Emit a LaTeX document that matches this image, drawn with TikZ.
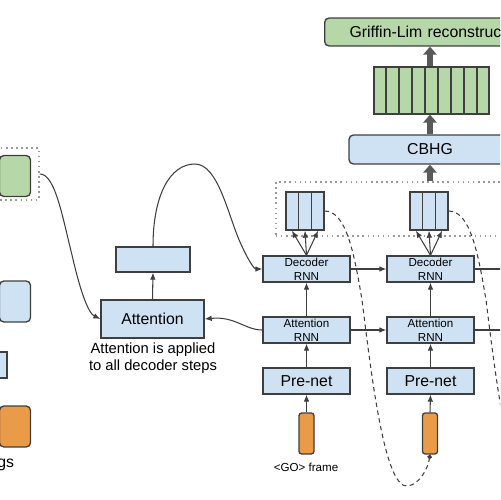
\documentclass[tikz,border=0pt]{standalone}
\usepackage{fontspec}
\setmainfont{Liberation Sans}
\usepackage{xcolor}
\usetikzlibrary{arrows.meta,calc,positioning}
\definecolor{boxblue}{HTML}{CFE2F3}
\definecolor{boxgreen}{HTML}{B6D7A8}
\definecolor{boxorange}{HTML}{E99B47}
\definecolor{edgegray}{HTML}{3F3F3F}

\begin{document}
\begin{tikzpicture}[x=0.02cm,y=-0.02cm,>={Latex[length=4pt,width=3.2pt]},
    blk/.style={draw=edgegray,line width=0.75pt,fill=boxblue,inner sep=0pt},
    rblk/.style={blk,rounded corners=2.5pt},
    gblk/.style={rblk,fill=boxgreen},
    oblk/.style={rblk,fill=boxorange},
    dotbox/.style={draw=black!40,line width=0.9pt,dotted},
    bigarrow/.style={draw=black!65,line width=3.4pt,-{Triangle[width=7.5pt,length=4.5pt]}},
    link/.style={draw=edgegray,line width=0.6pt,->},
    feedback/.style={draw=edgegray,line width=0.6pt,dash pattern=on 2.5pt off 2pt,-{Circle[length=2.6pt]}},
    bigtxt/.style={font=\fontsize{9}{10.8}\selectfont},
    smalltxt/.style={font=\fontsize{6.6}{7.9}\selectfont,align=center}]
  \useasboundingbox (0,0) rectangle (500,500);
  \clip (0,0) rectangle (500,500);

  % left column
  \node[dotbox,minimum width=0.98cm,minimum height=1.04cm] (encout) at (14.5,174) {};
  \node[gblk,minimum width=0.62cm,minimum height=0.82cm] (emb) at (15,176) {};
  \node[rblk,minimum width=0.62cm,minimum height=0.82cm] (legblue) at (15,301.5) {};
  \node[blk,minimum width=0.94cm,minimum height=0.52cm] (legrect) at (-16.5,365) {};
  \node[oblk,minimum width=0.62cm,minimum height=0.82cm] (legorange) at (15,426.5) {};
  \node[bigtxt,anchor=base east,inner sep=0pt] (embtext) at (14.5,467) {gs};

  % attention
  \node[blk,bigtxt,minimum width=2.06cm,minimum height=0.76cm] (attn) at (152.5,319) {Attention};
  \node[blk,minimum width=1.48cm,minimum height=0.5cm] (ctx) at (153,259.5) {};
  \node[font=\fontsize{8.4}{9.6}\selectfont,align=center] (note) at (153,358)
    {Attention is applied\\to all decoder steps};

  % decoder steps
  \node[blk,smalltxt,minimum width=1.74cm,minimum height=0.52cm] (dec1) at (306.5,269) {Decoder\\RNN};
  \node[blk,smalltxt,minimum width=1.74cm,minimum height=0.52cm] (dec2) at (430.5,269) {Decoder\\RNN};
  \node[blk,smalltxt,minimum width=1.74cm,minimum height=0.52cm] (att1) at (306.5,330) {Attention\\RNN};
  \node[blk,smalltxt,minimum width=1.74cm,minimum height=0.52cm] (att2) at (430.5,330) {Attention\\RNN};
  \node[blk,bigtxt,minimum width=1.74cm,minimum height=0.52cm] (pre1) at (306.5,381) {Pre-net};
  \node[blk,bigtxt,minimum width=1.74cm,minimum height=0.52cm] (pre2) at (430.5,381) {Pre-net};
  \node[oblk,rounded corners=1.5pt,minimum width=0.3cm,minimum height=0.82cm] (go1) at (306.5,433.5) {};
  \node[oblk,rounded corners=1.5pt,minimum width=0.3cm,minimum height=0.82cm] (go2) at (430,433.5) {};
  \node[font=\fontsize{6.6}{7.9}\selectfont] (gotext) at (306,467) {<GO> frame};

  % output frames
  \node[dotbox,anchor=west,minimum width=6.9cm,minimum height=1.08cm] (frames) at (275,209) {};
  \node[blk,minimum width=0.76cm,minimum height=0.76cm] (fr1) at (305,211) {};
  \node[blk,minimum width=0.76cm,minimum height=0.76cm] (fr2) at (429,211) {};
  \foreach \fr in {fr1,fr2} {
    \foreach \k in {1,2}
      \draw[edgegray,line width=1pt] ($(\fr.north west)!\k/3!(\fr.north east)$) -- ($(\fr.south west)!\k/3!(\fr.south east)$);
  }

  % post-processing
  \node[rblk,bigtxt,minimum width=3.24cm,minimum height=0.58cm] (cbhg) at (430,149.5) {CBHG};
  \node[blk,fill=boxgreen,minimum width=2.3cm,minimum height=0.94cm] (spec) at (431.5,90.5) {};
  \foreach \k in {1,...,8}
    \draw[edgegray,line width=1pt] ($(spec.north west)!\k/9!(spec.north east)$) -- ($(spec.south west)!\k/9!(spec.south east)$);
  \node[gblk,bigtxt,anchor=west,text width=5cm,align=left,inner xsep=0.5cm,minimum height=0.56cm] (griffin) at (324,32) {Griffin-Lim reconstruc};

  \draw[bigarrow] (cbhg.south |- frames.north) -- (cbhg.south);
  \draw[bigarrow] (cbhg.north) -- (cbhg.north |- spec.south);
  \draw[bigarrow] (cbhg.north |- spec.north) -- (cbhg.north |- griffin.south);

  % connections
  \draw[link] (encout.east) .. controls (55,174) and (62,215) .. (72,255)
    .. controls (80,290) and (88,313) .. (attn.west);
  \draw[link] (attn.north) -- (ctx.south);
  \draw[link] (ctx.north) .. controls (153,195) and (170,164) .. (195,164)
    .. controls (218,164) and (228,215) .. (240,242)
    .. controls (248,260) and (254,269) .. (dec1.west);
  \draw[link] (att1.west) .. controls (245,330) and (235,316) .. (attn.east);

  \coordinate (decout) at (530,269);
  \coordinate (attout) at (530,330);
  \coordinate (go3) at (554,456);
  \draw[link] (dec1.east) -- (dec2.west);
  \draw[link] (att1.east) -- (att2.west);
  \draw[link] (dec2.east) -- (decout);
  \draw[link] (att2.east) -- (attout);
  \foreach \i in {1,2} {
    \draw[link] (go\i.north) -- (pre\i.south);
    \draw[link] (pre\i.north) -- (att\i.south);
    \draw[link] (att\i.north) -- (dec\i.south);
    \foreach \f in {1/6,1/2,5/6}
      \draw[link] (dec\i.north) -- ($(fr\i.south west)!\f!(fr\i.south east)$);
  }

  \draw[feedback] (fr1.east) .. controls (346,211) and (354,252) .. (362,300)
    .. controls (372,380) and (385,490) .. (408,486)
    .. controls (420,484) and (428,468) .. (go2.south);
  \draw[feedback] (fr2.east) .. controls (470,211) and (478,252) .. (486,300)
    .. controls (496,380) and (509,490) .. (532,486)
    .. controls (544,484) and (552,468) .. (go3);
\end{tikzpicture}
\end{document}
